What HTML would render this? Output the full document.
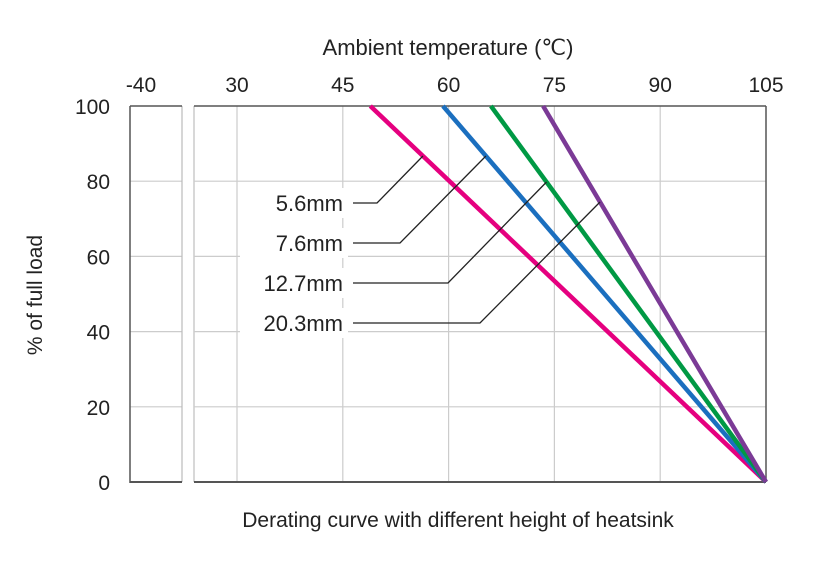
<!DOCTYPE html>
<html><head><meta charset="utf-8"><style>
body{margin:0;background:#fff}
svg text{font-family:"Liberation Sans",sans-serif;fill:#222}
</style></head><body>
<svg width="831" height="579" viewBox="0 0 831 579">
<g id="grid"></g>
<g id="axes"></g>
<g id="series"></g>
<g id="leaders"></g>
<text x="448" y="55" font-size="22" text-anchor="middle">Ambient temperature (℃)</text>
<text transform="translate(42,295) rotate(-90)" font-size="21" text-anchor="middle">% of full load</text>
<text x="458" y="527" font-size="21" text-anchor="middle">Derating curve with different height of heatsink</text>
</svg>
<script>
const xTicks=[30,45,60,75,90,105];
const yTicks=[0,20,40,60,80,100];
const seriesNames=["5.6mm","7.6mm","12.7mm","20.3mm"];
const startTemps=[48.9,59.2,66,73.4];
const endTemps=[105,105,105,105];
const colors=["#e5007f","#1b6fbf","#009944","#7b3a96"];
const NS="http://www.w3.org/2000/svg";
const X=t=>237+(t-30)*(766-237)/75;
const Y=v=>482-v*(482-106)/100;
function mk(tag,attrs,parent){const e=document.createElementNS(NS,tag);for(const k in attrs)e.setAttribute(k,attrs[k]);parent.appendChild(e);return e;}
const grid=document.getElementById('grid'),axes=document.getElementById('axes'),ser=document.getElementById('series'),lead=document.getElementById('leaders');
yTicks.forEach(v=>{
 if(v>0&&v<100){
  const a=mk('line',{x1:130,x2:182,y1:Y(v),y2:Y(v),stroke:'#ccc','stroke-width':1.2},grid);
  
  
  const b=mk('line',{x1:194,x2:766,y1:Y(v),y2:Y(v),stroke:'#ccc','stroke-width':1.2},grid);
  
  
 }
 const t=mk('text',{x:110,y:Y(v)+8,'font-size':21,'text-anchor':'end'},axes);t.textContent=v;
 
 
});
xTicks.forEach(v=>{
 if(v<105){const g=mk('line',{x1:X(v),x2:X(v),y1:106,y2:482,stroke:'#ccc','stroke-width':1.2},grid);
 
 }
 const t=mk('text',{x:X(v),y:92,'font-size':21,'text-anchor':'middle'},axes);t.textContent=v;
 
 
});
const t40=mk('text',{x:141,y:92,'font-size':21,'text-anchor':'middle'},axes);t40.textContent='-40';


mk('line',{x1:194,x2:194,y1:106,y2:482,stroke:'#ccc','stroke-width':1.5},axes);
mk('line',{x1:182,x2:182,y1:106,y2:482,stroke:'#bbb','stroke-width':1.2},axes);
mk('line',{x1:130,x2:130,y1:106,y2:483,stroke:'#555','stroke-width':1.5},axes);
mk('line',{x1:130,x2:182,y1:106,y2:106,stroke:'#555','stroke-width':1.5},axes);
mk('line',{x1:130,x2:182,y1:482,y2:482,stroke:'#555','stroke-width':2},axes);
mk('line',{x1:194,x2:766,y1:106,y2:106,stroke:'#555','stroke-width':1.5},axes);
mk('line',{x1:194,x2:766,y1:482,y2:482,stroke:'#555','stroke-width':2},axes);
mk('line',{x1:766,x2:766,y1:106,y2:482,stroke:'#555','stroke-width':1.5},axes);
startTemps.forEach((s,i)=>{
 const l=mk('line',{x1:X(s),y1:Y(100),x2:X(endTemps[i]),y2:Y(0),stroke:colors[i],'stroke-width':4.5},ser);
 
 
});
const leadPts=[[377,203,156],[400,243,156],[448,283,182],[480,323,202]];
seriesNames.forEach((n,i)=>{
 const [hx,hy,ty]=leadPts[i];
 const v=100*(482-ty)/(482-106);
 const tx=X(startTemps[i])+(X(endTemps[i])-X(startTemps[i]))*(100-v)/100;
 mk('rect',{x:240,y:hy-15,width:108,height:30,fill:'#fff'},lead);
 const p=mk('polyline',{points:`353,${hy} ${hx},${hy} ${tx},${ty}`,fill:'none',stroke:'#222','stroke-width':1.3},lead);
 
 
 const t=mk('text',{x:343,y:hy+8,'font-size':22,'text-anchor':'end'},lead);t.textContent=n;
 
 
});
</script>
</body></html>
